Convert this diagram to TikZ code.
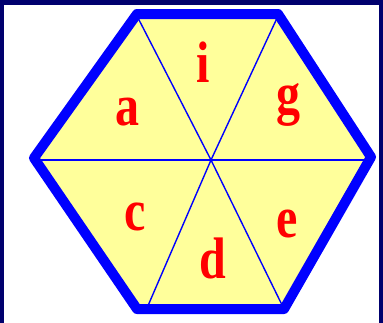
\documentclass[tikz,border=0pt]{standalone}
\usepackage{fontspec}
\setmainfont{Liberation Serif}
\definecolor{navy}{RGB}{0,0,110}
\definecolor{hexblue}{RGB}{0,0,255}
\definecolor{hexfill}{RGB}{255,255,155}
\definecolor{lab}{RGB}{255,0,0}
\begin{document}
\begin{tikzpicture}[x=1pt,y=-1pt,
  spoke/.style={hexblue,line width=1.4pt},
  rim/.style={hexblue,line width=10pt,line join=round},
  letter/.style={text=lab,font=\fontsize{48}{48}\selectfont\bfseries,yscale=1.22,inner sep=0pt}]
\useasboundingbox (0,0) rectangle (383,322);
\fill[white] (-1,-1) rectangle (384,323);
\fill[navy] (-1,-1) rectangle (384,5);
\fill[navy] (-1,-1) rectangle (4,323);
\fill[navy] (379,-1) rectangle (384,323);
\coordinate (TL) at (137,14);
\coordinate (TR) at (278,14);
\coordinate (R) at (371,157);
\coordinate (BR) at (284,309);
\coordinate (BL) at (137,309);
\coordinate (L) at (34,158);
\coordinate (O) at (211,160);
\coordinate (s1) at (137,16);
\coordinate (s2) at (278,16);
\coordinate (s3) at (366,160);
\coordinate (s4) at (283,307);
\coordinate (s5) at (147,308);
\coordinate (s6) at (36,160);
\fill[hexfill] (TL) -- (TR) -- (R) -- (BR) -- (BL) -- (L) -- cycle;
\foreach \s in {s1,s2,s3,s4,s5,s6} \draw[spoke] (O) -- (\s);
\draw[rim] (TL) -- (TR) -- (R) -- (BR) -- (BL) -- (L) -- cycle;
\node[letter] (ni) at (203,62) {i};
\node[letter] (na) at (127,112) {a};
\node[letter] (ng) at (288,105) {g};
\node[letter] (nc) at (135,217) {c};
\node[letter] (nd) at (213,258) {d};
\node[letter] (ne) at (287,224) {e};
\end{tikzpicture}
\end{document}
